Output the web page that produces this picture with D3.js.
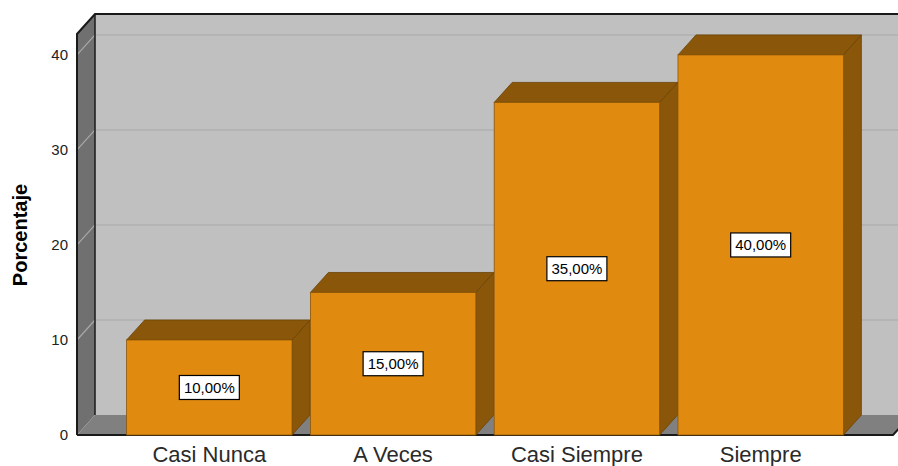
<!DOCTYPE html>
<html>
<head>
	<meta charset="utf-8">
	<style>
		body {
			margin: 0;
			background: #fff;
			font-family: 'Liberation Sans', Arial, sans-serif;
		}
		.axis path {
			stroke: none;
		}
		.axis.y text {
			font-size: 15px;
			fill: #222;
		}
		.axis.x text {
			font-size: 22px;
			fill: #2a2a2a;
		}
		.title {
			font-size: 20px;
			font-weight: bold;
			fill: #000;
		}
		.lbl text {
			font-size: 15px;
			fill: #000;
		}
	</style>
	<script src="https://d3js.org/d3.v7.min.js"></script>
</head>
<body>
	<script>
		// chart data
		var categories = ['Casi Nunca', 'A Veces', 'Casi Siempre', 'Siempre'];
		var percents = [10, 15, 35, 40];
		var y_ticks = [0, 10, 20, 30, 40];

		var width = 898,
			height = 466,
			plot_left = 77,
			plot_right = 893,
			plot_bottom = 435,
			plot_top = 34,
			dx = 18,
			dy = 20;

		var data = categories.map((c, i) => ({cat: c, value: percents[i]}));

		var svg = d3.select('body').append('svg')
			.attr('width', width)
			.attr('height', height);

		var x = d3.scaleBand()
			.domain(categories)
			.range([plot_left, plot_right])
			.paddingInner(0.1)
			.paddingOuter(0.27);

		var y = d3.scaleLinear()
			.domain([0, 42.2])
			.range([plot_bottom, plot_top]);

		var pts = a => a.map(p => p.join(',')).join(' ');

		// back wall
		svg.append('rect')
			.attr('x', plot_left + dx)
			.attr('y', plot_top - dy)
			.attr('width', plot_right - plot_left)
			.attr('height', plot_bottom - plot_top)
			.attr('fill', '#c0c0c0');

		// back wall gridlines
		svg.append('g')
			.selectAll('line')
			.data(y_ticks.slice(1))
			.join('line')
			.attr('x1', plot_left + dx)
			.attr('x2', plot_right + dx)
			.attr('y1', d => y(d) - dy)
			.attr('y2', d => y(d) - dy)
			.attr('stroke', '#b0b0b0')
			.attr('stroke-width', 1.5);

		// left wall
		svg.append('polygon')
			.attr('points', pts([[plot_left, plot_top], [plot_left + dx, plot_top - dy], [plot_left + dx, plot_bottom - dy], [plot_left, plot_bottom]]))
			.attr('fill', '#707070');

		svg.append('g')
			.selectAll('line')
			.data(y_ticks.slice(1))
			.join('line')
			.attr('x1', plot_left)
			.attr('y1', d => y(d))
			.attr('x2', plot_left + dx)
			.attr('y2', d => y(d) - dy)
			.attr('stroke', '#a8a8a8')
			.attr('stroke-width', 1.2);

		// floor
		svg.append('polygon')
			.attr('points', pts([[plot_left, plot_bottom], [plot_left + dx, plot_bottom - dy], [plot_right + dx, plot_bottom - dy], [plot_right, plot_bottom]]))
			.attr('fill', '#808080');

		// wall outlines
		svg.append('path')
			.attr('d', 'M' + plot_left + ',' + plot_bottom + 'V' + plot_top + 'L' + (plot_left + dx) + ',' + (plot_top - dy) + 'H' + width)
			.attr('fill', 'none')
			.attr('stroke', '#1a1a1a')
			.attr('stroke-width', 2);
		svg.append('line')
			.attr('x1', plot_left + dx).attr('x2', plot_left + dx)
			.attr('y1', plot_top - dy).attr('y2', plot_bottom - dy)
			.attr('stroke', '#1a1a1a')
			.attr('stroke-width', 1.5);
		svg.append('path')
			.attr('d', 'M' + plot_left + ',' + plot_bottom + 'H' + plot_right + 'L' + (plot_right + dx) + ',' + (plot_bottom - dy))
			.attr('fill', 'none')
			.attr('stroke', '#1a1a1a')
			.attr('stroke-width', 2);

		// bars
		var bars = svg.append('g').attr('class', 'bars');
		var bw = x.bandwidth();

		var bar = bars.selectAll('g')
			.data(data)
			.join('g');

		bar.append('polygon') // side
			.attr('points', d => {
				var x1 = x(d.cat) + bw;
				return pts([[x1, y(d.value)], [x1 + dx, y(d.value) - dy], [x1 + dx, y(0) - dy], [x1, y(0)]]);
			})
			.attr('fill', '#8a5609')
			.attr('stroke', '#6a4206')
			.attr('stroke-width', 0.8);

		bar.append('polygon') // top
			.attr('points', d => {
				var x0 = x(d.cat), x1 = x0 + bw, yt = y(d.value);
				return pts([[x0, yt], [x0 + dx, yt - dy], [x1 + dx, yt - dy], [x1, yt]]);
			})
			.attr('fill', '#8a5609')
			.attr('stroke', '#6a4206')
			.attr('stroke-width', 0.8);

		bar.append('rect') // front
			.attr('x', d => x(d.cat))
			.attr('y', d => y(d.value))
			.attr('width', bw)
			.attr('height', d => y(0) - y(d.value))
			.attr('fill', '#e08a10')
			.attr('stroke', '#8a5609')
			.attr('stroke-width', 0.8);

		// value labels
		var fmt = v => d3.format('.2f')(v).replace('.', ',') + '%';
		var lbl = svg.append('g')
			.attr('class', 'lbl')
			.selectAll('g')
			.data(data)
			.join('g')
			.attr('transform', d => 'translate(' + (x(d.cat) + bw / 2) + ',' + y(d.value / 2) + ')');

		lbl.append('rect')
			.attr('x', -30)
			.attr('y', -12)
			.attr('width', 60)
			.attr('height', 24)
			.attr('fill', '#fff')
			.attr('stroke', '#000')
			.attr('stroke-width', 1.2);

		lbl.append('text')
			.attr('text-anchor', 'middle')
			.attr('dy', '0.36em')
			.text(d => fmt(d.value));

		// axes
		svg.append('g')
			.attr('class', 'axis y')
			.attr('transform', 'translate(' + plot_left + ',0)')
			.call(d3.axisLeft(y).tickValues(y_ticks).tickFormat(d3.format('d')).tickSize(0).tickPadding(9));

		svg.append('g')
			.attr('class', 'axis x')
			.attr('transform', 'translate(0,' + plot_bottom + ')')
			.call(d3.axisBottom(x).tickSize(0).tickPadding(11));

		svg.append('text')
			.attr('class', 'title')
			.attr('transform', 'translate(27,' + 235 + ') rotate(-90)')
			.attr('text-anchor', 'middle')
			.text('Porcentaje');
	</script>
</body>
</html>
